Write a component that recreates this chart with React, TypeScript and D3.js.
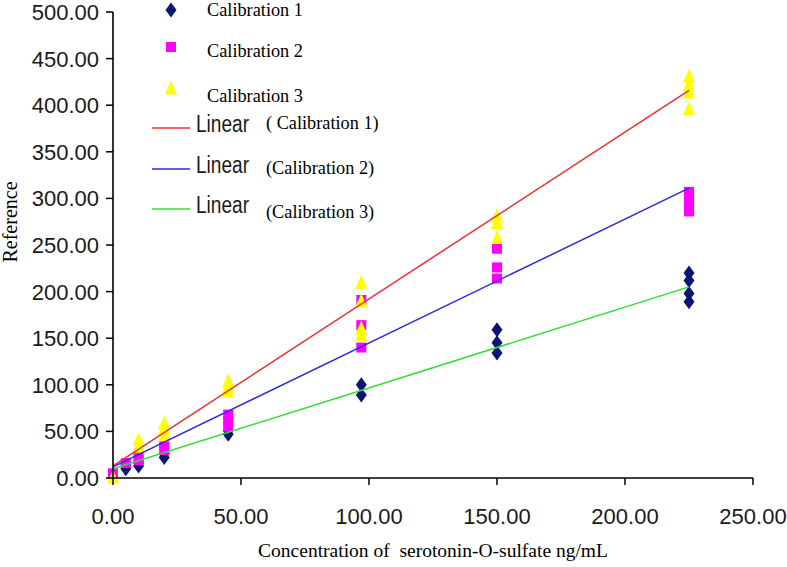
import React from 'react';
import * as d3 from 'd3';

// concentration ng/mL , reference value
const calibration1: [number, number][] = [
  [5, 10], [5, 14], [10, 13], [10, 16], [20, 22], [20, 26],
  [45, 47], [45, 51], [97, 89], [97, 100],
  [150, 134], [150, 145], [150, 159],
  [225, 189], [225, 198], [225, 212], [225, 220],
];
const calibration2: [number, number][] = [
  [0, 5], [5, 16], [10, 19], [10, 22], [20, 30], [20, 35],
  [45, 55], [45, 61], [45, 68], [97, 140], [97, 164], [97, 191],
  [150, 214], [150, 226], [150, 246],
  [225, 286], [225, 293], [225, 300], [225, 307],
];
const calibration3: [number, number][] = [
  [0, 0], [10, 33], [10, 40], [20, 45], [20, 52], [20, 58],
  [45, 92], [45, 97], [45, 103], [97, 153], [97, 160], [97, 189], [97, 209],
  [150, 257], [150, 273], [150, 280],
  [225, 395], [225, 413], [225, 421], [225, 430],
];

// linear fits: [intercept, slope]
const fitNames = ['( Calibration 1)', '(Calibration 2)', '(Calibration 3)'];
const fitIntercepts = [13, 12, 10];
const fitSlopes = [1.791, 1.329, 0.867];
const fitColors = ['#f03030', '#2a2ae8', '#30e030'];
const fitRange = [0, 225];

const xTicks = [0, 50, 100, 150, 200, 250];
const yTicks = [0, 50, 100, 150, 200, 250, 300, 350, 400, 450, 500];

const W = 787;
const H = 567;

export default function App() {
  const x = d3.scaleLinear().domain([0, 250]).range([113, 753]);
  const y = d3.scaleLinear().domain([0, 500]).range([478, 12]);

  const diamond = (cx: number, cy: number) =>
    `M${cx},${cy - 7.5} L${cx + 5.5},${cy} L${cx},${cy + 7.5} L${cx - 5.5},${cy} Z`;
  const triangle = (cx: number, cy: number) =>
    `M${cx},${cy - 8.5} L${cx + 6},${cy + 5.5} L${cx - 6},${cy + 5.5} Z`;

  const line = d3
    .line<number>()
    .x((c) => x(c));

  const sans = 'Liberation Sans, Arial, sans-serif';
  const serif = 'Liberation Serif, Times New Roman, serif';

  return (
    <svg
      width={W}
      height={H}
      style={{ position: 'absolute', left: 0, top: 0, background: '#fff' }}
    >
      {/* markers */}
      {calibration1.map(([c, v], i) => (
        <path key={'d' + i} d={diamond(x(c), y(v))} fill="#0b1672" />
      ))}
      {calibration2.map(([c, v], i) => (
        <rect key={'s' + i} x={x(c) - 5} y={y(v) - 5} width={10} height={10} fill="#ff00ff" />
      ))}
      {calibration3.map(([c, v], i) => (
        <path key={'t' + i} d={triangle(x(c), y(v))} fill="#ffff00" />
      ))}

      {/* fit lines */}
      {fitIntercepts.map((b, i) => (
        <path
          key={'f' + i}
          d={line.y((c) => y(b + fitSlopes[i] * c))(fitRange) || ''}
          stroke={fitColors[i]}
          strokeWidth={1.5}
          fill="none"
        />
      ))}

      {/* axes */}
      <line x1={x(0)} x2={x(0)} y1={y(500)} y2={y(0)} stroke="#000" strokeWidth={1.6} />
      <line x1={x(0)} x2={x(250)} y1={y(0)} y2={y(0)} stroke="#000" strokeWidth={1.6} />
      {yTicks.map((t) => (
        <g key={'yt' + t}>
          <line x1={x(0) - 7} x2={x(0)} y1={y(t)} y2={y(t)} stroke="#000" strokeWidth={1.5} />
          <text
            x={x(0) - 14}
            y={y(t) + 8}
            textAnchor="end"
            fontFamily={sans}
            fontSize={22}
            fill="#1a1a1a"
          >
            {t.toFixed(2)}
          </text>
        </g>
      ))}
      {xTicks.map((t) => (
        <g key={'xt' + t}>
          <line x1={x(t)} x2={x(t)} y1={y(0)} y2={y(0) + 7} stroke="#000" strokeWidth={1.5} />
          <text
            x={x(t)}
            y={524}
            textAnchor="middle"
            fontFamily={sans}
            fontSize={22}
            fill="#1a1a1a"
          >
            {t.toFixed(2)}
          </text>
        </g>
      ))}

      {/* axis titles */}
      <text
        x={433}
        y={557}
        textAnchor="middle"
        fontFamily={serif}
        fontSize={19.5}
        style={{ whiteSpace: 'pre' }}
      >
        Concentration of  serotonin-O-sulfate ng/mL
      </text>
      <text
        transform="translate(17,222) rotate(-90)"
        textAnchor="middle"
        fontFamily={serif}
        fontSize={20}
      >
        Reference
      </text>

      {/* legend */}
      <path d={diamond(171, 10)} fill="#0b1672" />
      <text x={207} y={16} fontFamily={serif} fontSize={18.3}>Calibration 1</text>
      <rect x={166} y={42} width={10} height={10} fill="#ff00ff" />
      <text x={207} y={57} fontFamily={serif} fontSize={18.3}>Calibration 2</text>
      <path d={triangle(171, 89)} fill="#ffff00" />
      <text x={207} y={102} fontFamily={serif} fontSize={18.3}>Calibration 3</text>

      {fitNames.map((name, i) => {
        const ly = [128, 169, 209][i];
        const ty = [129, 174, 218][i];
        return (
          <g key={'lg' + i}>
            <line x1={152} x2={190} y1={ly} y2={ly} stroke={fitColors[i]} strokeWidth={1.5} />
            <text
              x={196}
              y={ly + 4}
              fontFamily={sans}
              fontSize={23}
              textLength={53}
              lengthAdjust="spacingAndGlyphs"
              fill="#1a1a1a"
            >
              Linear
            </text>
            <text x={266} y={ty} fontFamily={serif} fontSize={18.3} style={{ whiteSpace: 'pre' }}>
              {name}
            </text>
          </g>
        );
      })}
    </svg>
  );
}
